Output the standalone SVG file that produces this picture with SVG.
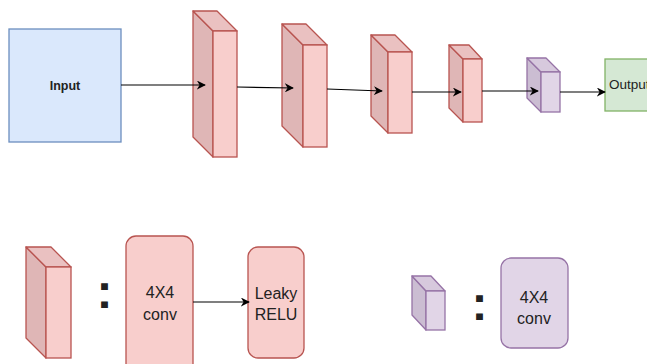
<svg xmlns="http://www.w3.org/2000/svg" width="647" height="364" viewBox="0 0 647 364">
<defs>
<style>
.rf{fill:#f8cecc;stroke:#b85450;stroke-width:1.3}
.rs{fill:#dfb6b6;stroke:#b85450;stroke-width:1.3;stroke-linejoin:round}
.rt{fill:#eac1c1;stroke:#b85450;stroke-width:1.3;stroke-linejoin:round}
.pf{fill:#e1d5e7;stroke:#9673a6;stroke-width:1.3}
.ps{fill:#cbbdd2;stroke:#9673a6;stroke-width:1.3;stroke-linejoin:round}
.pt{fill:#d7c9dd;stroke:#9673a6;stroke-width:1.3;stroke-linejoin:round}
.c{stroke:#000;stroke-width:1.2;fill:none;marker-end:url(#ah)}
.t{font-family:"Liberation Sans",Arial,sans-serif;fill:#222;text-anchor:middle}
</style>
<marker id="ah" viewBox="0 0 10 10" refX="9" refY="5" markerWidth="9" markerHeight="9" markerUnits="userSpaceOnUse" orient="auto">
<path d="M0,0 L10,5 L0,10 L3,5 Z" fill="#000"/>
</marker>
</defs>
<rect width="647" height="364" fill="#fff"/>

<g id="input">
<rect x="9" y="29" width="112" height="113" fill="#dae8fc" stroke="#6c8ebf" stroke-width="1.3"/>
<text class="t" x="65" y="90" font-size="12.5" font-weight="bold">Input</text>
</g>

<g id="cube1">
<polygon class="rs" points="193,11 213,31 213,157 193,137"/>
<polygon class="rt" points="193,11 217,11 237,31 213,31"/>
<rect class="rf" x="213" y="31" width="24" height="126"/>
</g>

<g id="cube2">
<polygon class="rs" points="282,24 303,45 303,147 282,126"/>
<polygon class="rt" points="282,24 306,24 327,45 303,45"/>
<rect class="rf" x="303" y="45" width="24" height="102"/>
</g>

<g id="cube3">
<polygon class="rs" points="371,35 388,52 388,133 371,116"/>
<polygon class="rt" points="371,35 395,35 412,52 388,52"/>
<rect class="rf" x="388" y="52" width="24" height="81"/>
</g>

<g id="cube4">
<polygon class="rs" points="449,45 463,59 463,122 449,108"/>
<polygon class="rt" points="449,45 469,45 482,59 463,59"/>
<rect class="rf" x="463" y="59" width="19" height="63"/>
</g>

<g id="cube5">
<polygon class="ps" points="527,58 541,72 541,112 527,98"/>
<polygon class="pt" points="527,58 546,58 560,72 541,72"/>
<rect class="pf" x="541" y="72" width="19" height="40"/>
</g>

<g id="output">
<rect x="605" y="59" width="70" height="52" fill="#d5e8d4" stroke="#82b366" stroke-width="1.3"/>
<text x="609" y="89" font-family="'Liberation Sans',Arial,sans-serif" font-size="13.5" fill="#222">Output</text>
</g>

<g id="legend-cube">
<polygon class="rs" points="26,247 46,267 46,358 26,338"/>
<polygon class="rt" points="26,247 51,247 71,267 46,267"/>
<rect class="rf" x="46" y="267" width="25" height="91"/>
</g>

<g id="colon1">
<text class="t" x="104.5" y="308" font-size="48" font-weight="bold" fill="#000">:</text>
</g>

<g id="conv1">
<rect x="126" y="236" width="67" height="140" rx="10" ry="10" fill="#f8cecc" stroke="#b85450" stroke-width="1.3"/>
<text class="t" x="160" y="298" font-size="16">4X4</text>
<text class="t" x="160" y="320" font-size="16">conv</text>
</g>

<g id="leaky">
<rect x="248" y="247" width="56" height="111" rx="10" ry="10" fill="#f8cecc" stroke="#b85450" stroke-width="1.3"/>
<text class="t" x="276" y="299" font-size="16">Leaky</text>
<text class="t" x="276" y="320" font-size="16">RELU</text>
</g>

<g id="legend-cube-purple">
<polygon class="ps" points="412,276 426,291 426,330 412,315"/>
<polygon class="pt" points="412,276 431,276 445,291 426,291"/>
<rect class="pf" x="426" y="291" width="19" height="39"/>
</g>

<g id="colon2">
<text class="t" x="479.5" y="320" font-size="48" font-weight="bold" fill="#000">:</text>
</g>

<g id="conv2">
<rect x="501" y="258" width="67" height="90" rx="10" ry="10" fill="#e1d5e7" stroke="#9673a6" stroke-width="1.3"/>
<text class="t" x="534" y="303" font-size="16">4X4</text>
<text class="t" x="534" y="324" font-size="16">conv</text>
</g>

<g id="connectors">
<path class="c" d="M121,85 L205,85"/>
<path class="c" d="M237,87 L293,88"/>
<path class="c" d="M327,89 L382,91"/>
<path class="c" d="M412,92 L461,92"/>
<path class="c" d="M482,91 L538,91"/>
<path class="c" d="M560,92 L605,92"/>
<path class="c" d="M193,302 L249,302"/>
</g>
</svg>
